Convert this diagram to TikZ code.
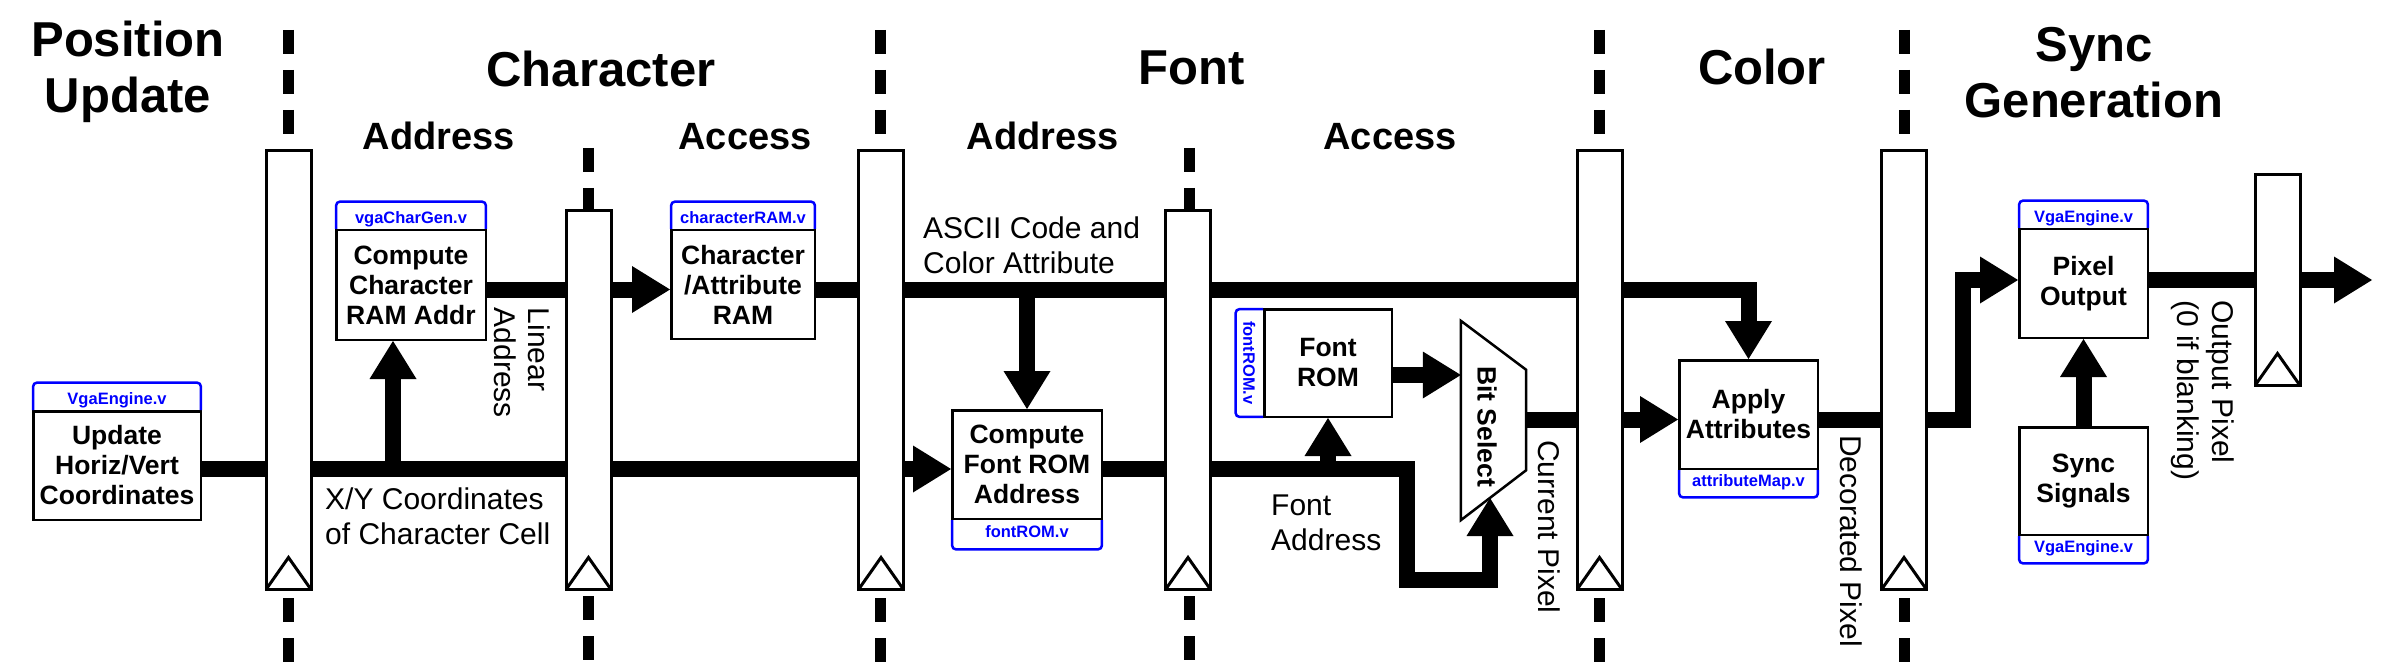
\documentclass[tikz,border=0pt]{standalone}
\usepackage{fontspec}
\setmainfont{Liberation Sans}
\usetikzlibrary{arrows.meta,calc}
\begin{document}
\begin{tikzpicture}[x=1pt,y=-1pt,
  box/.style={draw, line width=2.5pt, fill=white, inner sep=0pt, align=center, font=\fontsize{26.5}{30}\selectfont\bfseries},
  tag/.style={inner sep=0pt, text=blue, font=\fontsize{16.5}{18}\selectfont\bfseries},
  hdr/.style={tag, text height=15.6pt, text depth=0pt, minimum height=27pt},
  ftr/.style={tag, text height=10pt, text depth=5pt, minimum height=27pt},
  tagline/.style={draw=blue, line width=2.5pt, rounded corners=4pt},
  reg/.style={draw, line width=3pt, fill=white, inner sep=0pt, minimum width=45pt,
    path picture={\draw[line width=3pt] (path picture bounding box.south west) -- ([yshift=32pt]path picture bounding box.south) -- (path picture bounding box.south east);}},
  vline/.style={line width=11pt, dash pattern=on 24pt off 16pt},
  bus/.style={line width=16pt},
  arr/.style={bus, -{Triangle[length=38pt,width=47pt,line width=0pt]}},
  title/.style={inner sep=0pt, align=center, font=\fontsize{49}{56}\selectfont\bfseries},
  sub/.style={inner sep=0pt, font=\fontsize{38}{44}\selectfont\bfseries},
  lbl/.style={inner sep=0pt, align=left, font=\fontsize{30}{34.5}\selectfont}
]
\path[use as bounding box] (0,0) rectangle (2391,663);

% headings
\node[title, anchor=north] (tPos) at (128,21) {Position\\Update};
\node[title, anchor=base] (tChar) at (601,86.5) {Character};
\node[title, anchor=base] (tFont) at (1192,85) {Font};
\node[title, anchor=base] (tColor) at (1762,85) {Color};
\node[title, anchor=north] (tSync) at (2094,27) {Sync\\Generation};
\node[sub, anchor=base] (sAddr1) at (439,150) {Address};
\node[sub, anchor=base] (sAcc1) at (745,150) {Access};
\node[sub, anchor=base] (sAddr2) at (1043,150) {Address};
\node[sub, anchor=base] (sAcc2) at (1390,150) {Access};

% dashed stage boundaries
\draw[vline] (288,30) -- (288,136);  \draw[vline] (288,598) -- (288,663);
\draw[vline] (588,148) -- (588,209); \draw[vline] (588,596) -- (588,663);
\draw[vline] (880,30) -- (880,136);  \draw[vline] (880,598) -- (880,663);
\draw[vline] (1189,148) -- (1189,209); \draw[vline] (1189,596) -- (1189,663);
\draw[vline] (1599,30) -- (1599,136); \draw[vline] (1599,598) -- (1599,663);
\draw[vline] (1904,30) -- (1904,136); \draw[vline] (1904,598) -- (1904,663);

% registers
\node[reg, minimum height=439pt] (r1) at (288.5,370) {};
\node[reg, minimum height=379pt] (r2) at (588.5,400) {};
\node[reg, minimum height=439pt] (r3) at (881,370) {};
\node[reg, minimum height=379pt] (r4) at (1188,400) {};
\node[reg, minimum height=439pt] (r5) at (1599.5,370) {};
\node[reg, minimum height=439pt] (r6) at (1904,370) {};
\node[reg, minimum height=211pt] (r7) at (2277.5,280) {};

% boxes
\node[box, minimum width=167.5pt, minimum height=108.5pt] (upd) at (117,465.5) {Update\\Horiz/Vert\\Coordinates};
\node[box, minimum width=149.5pt, minimum height=109.5pt] (cc) at (411,285) {Compute\\Character\\RAM Addr};
\node[box, minimum width=143.5pt, minimum height=108.5pt] (cram) at (743,284.5) {Character\\/Attribute\\RAM};
\node[box, minimum width=149.5pt, minimum height=108.5pt] (cfa) at (1027,464.5) {Compute\\Font ROM\\Address};
\node[box, minimum width=127.5pt, minimum height=107.5pt] (from) at (1328,363) {Font\\ROM};
\node[box, minimum width=138.5pt, minimum height=108.5pt] (apply) at (1748.5,414.5) {Apply\\Attributes};
\node[box, minimum width=128.5pt, minimum height=108.5pt] (pix) at (2083.5,283.5) {Pixel\\Output};
\node[box, minimum width=128.5pt, minimum height=107.5pt] (sync) at (2083.5,481) {Sync\\Signals};

% file tags
\node[hdr, minimum width=167.5pt, anchor=south] (updH) at (upd.north) {VgaEngine.v};
\draw[tagline] (updH.south west) -- (updH.north west) -- (updH.north east) -- (updH.south east);
\node[hdr, minimum width=149.5pt, anchor=south] (ccH) at (cc.north) {vgaCharGen.v};
\draw[tagline] (ccH.south west) -- (ccH.north west) -- (ccH.north east) -- (ccH.south east);
\node[hdr, minimum width=143.5pt, anchor=south] (cramH) at (cram.north) {characterRAM.v};
\draw[tagline] (cramH.south west) -- (cramH.north west) -- (cramH.north east) -- (cramH.south east);
\node[hdr, minimum width=128.5pt, anchor=south] (pixH) at (pix.north) {VgaEngine.v};
\draw[tagline] (pixH.south west) -- (pixH.north west) -- (pixH.north east) -- (pixH.south east);
\node[ftr, minimum width=149.5pt, minimum height=29pt, anchor=north] (cfaF) at (cfa.south) {fontROM.v};
\draw[tagline] (cfaF.north west) -- (cfaF.south west) -- (cfaF.south east) -- (cfaF.north east);
\node[ftr, minimum width=138.5pt, anchor=north] (applyF) at (apply.south) {attributeMap.v};
\draw[tagline] (applyF.north west) -- (applyF.south west) -- (applyF.south east) -- (applyF.north east);
\node[ftr, minimum width=128.5pt, anchor=north] (syncF) at (sync.south) {VgaEngine.v};
\draw[tagline] (syncF.north west) -- (syncF.south west) -- (syncF.south east) -- (syncF.north east);
\node[tag, minimum width=27pt, minimum height=107.5pt, anchor=east] (fromT) at (from.west) {\rotatebox{-90}{fontROM.v}};
\draw[tagline] (fromT.north east) -- (fromT.north west) -- (fromT.south west) -- (fromT.south east);

% bit select mux
\node[inner sep=0pt, minimum width=65pt, minimum height=199pt] (bitsel) at (1493.5,420.5) {};
\draw[line width=2.5pt, fill=white] (bitsel.north west) -- ($(bitsel.north east)+(0,49)$) -- ($(bitsel.south east)+(0,-50)$) -- (bitsel.south west) -- cycle;
\node[inner sep=0pt, rotate=-90, font=\fontsize{26.5}{30}\selectfont\bfseries] (bsT) at (1487,426.5) {Bit Select};

% labels
\node[lbl, anchor=north west] (lXY) at (325,488) {X/Y Coordinates\\of Character Cell};
\node[lbl, anchor=north west] (lAscii) at (923,217) {ASCII Code and\\Color Attribute};
\node[lbl, anchor=north west] (lFA) at (1271,495) {Font\\Address};
\node[lbl, rotate=-90, anchor=north west] (lLin) at (550.5,307.5) {Linear\\Address};
\node[lbl, rotate=-90, anchor=base west] (lCur) at (1538.5,440) {Current Pixel};
\node[lbl, rotate=-90, anchor=base west] (lDec) at (1840,435) {Decorated Pixel};
\node[lbl, rotate=-90, anchor=north west] (lOut) at (2234,300) {Output Pixel\\(0 if blanking)};

% bus levels and bend points
\coordinate (yA) at (0,469);
\coordinate (yB) at (0,289.5);
\coordinate (yC) at (0,419.5);
\coordinate (yD) at (0,280);
\coordinate (yE) at (0,375);
\coordinate (brA) at (393,469);
\coordinate (fa2) at (1407,580);
\coordinate (bsin) at (1490,498);
\coordinate (dp) at (1963,280);
\coordinate (out) at (2372,280);

% connectors: coordinate bus
\draw[bus] (upd.east |- yA) -- (r1.west |- yA);
\draw[bus] (r1.east |- yA) -- (r2.west |- yA);
\draw[arr] (brA) -- (brA |- cc.south);
\draw[bus] (r2.east |- yA) -- (r3.west |- yA);
\draw[arr] (r3.east |- yA) -- (cfa.west |- yA);
\draw[bus] (cfa.east |- yA) -- (r4.west |- yA);
\draw[arr] (r4.east |- yA) -| (fa2) -| (bsin);
\draw[arr] (from.south |- yA) -- (from.south);

% connectors: address / data bus
\draw[bus] (cc.east |- yB) -- (r2.west |- yB);
\draw[arr] (r2.east |- yB) -- (cram.west |- yB);
\draw[bus] (cram.east |- yB) -- (r3.west |- yB);
\draw[bus] (r3.east |- yB) -- (r4.west |- yB);
\draw[arr] (cfa.north |- yB) -- (cfa.north);
\draw[bus] (r4.east |- yB) -- (r5.west |- yB);
\draw[arr] (r5.east |- yB) -| (apply.north);

% connectors: pixel path
\draw[arr] (from.east |- yE) -- (bitsel.west |- yE);
\draw[bus] (bitsel.east |- yC) -- (r5.west |- yC);
\draw[arr] (r5.east |- yC) -- (apply.west |- yC);
\draw[bus] (apply.east |- yC) -- (r6.west |- yC);
\draw[arr] (r6.east |- yC) -| (dp) -- (pix.west |- dp);
\draw[arr] (sync.north) -- (pix.south);
\draw[bus] (pix.east |- yD) -- (r7.west |- yD);
\draw[arr] (r7.east |- yD) -- (out);
\end{tikzpicture}
\end{document}
